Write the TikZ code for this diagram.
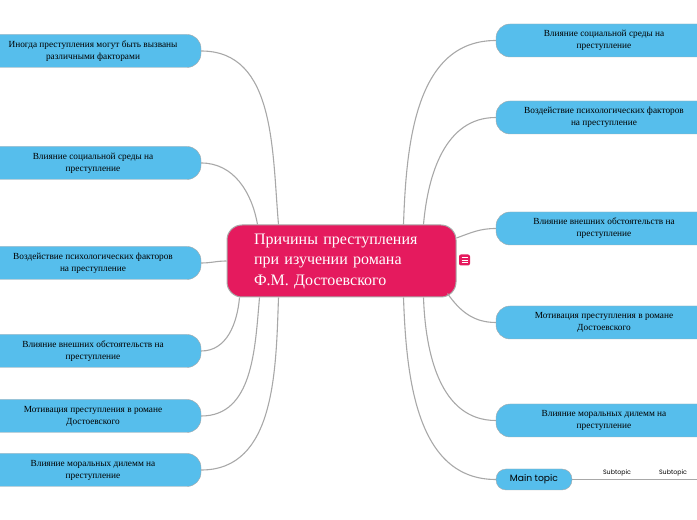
\documentclass[tikz,border=0pt]{standalone}
\usepackage{fontspec}
\setmainfont{Liberation Serif}
\newfontfamily\uifont{Poppins}
\usetikzlibrary{positioning}
\definecolor{rose}{HTML}{E51A5E}
\definecolor{sky}{HTML}{56BEEC}
\definecolor{rim}{HTML}{A8A8A8}
\definecolor{wire}{HTML}{A8A8A8}

\begin{document}
\begin{tikzpicture}[x=1pt,y=1pt,on grid,
    topic/.style={draw=rim,fill=sky,rounded corners=14pt,minimum width=216pt,minimum height=33pt,inner sep=2pt,align=center,font=\fontsize{9.3}{12}\selectfont},
    core/.style={draw=rim,line width=1pt,fill=rose,rounded corners=15pt,text=white,minimum height=72pt,text width=175pt,inner xsep=27pt,align=left,font=\fontsize{16}{20.5}\selectfont},
    maintopic/.style={draw=rim,fill=sky,rounded corners=10pt,minimum width=76pt,minimum height=21pt,inner sep=1pt,font=\uifont\fontsize{9.2}{10}\selectfont},
    subtopic/.style={inner sep=1pt,font=\uifont\fontsize{6.3}{8}\selectfont},
    link/.style={draw=wire,line width=1.1pt}]
    \useasboundingbox (0,0) rectangle (697,520);
    % centre
    \node[core](c) at (341.5,259) {Причины преступления\\при изучении романа\\Ф.М. Достоевского};
    \node[fill=rose,rounded corners=2pt,minimum size=11pt,inner sep=0pt](menu) at (464.5,260) {};
    \foreach \d in {-2.5,0,2.5}
        \draw[white,line width=0.8pt] ([xshift=-3pt,yshift=\d pt]menu.center) -- ++(6pt,0);
    % left side
    \node[topic](l1) at (93,469) {Иногда преступления могут быть вызваны\\различными факторами};
    \node[topic](l2) [below=112pt of l1] {Влияние социальной среды на\\преступление};
    \node[topic](l3) [below=100pt of l2] {Воздействие психологических факторов\\на преступление};
    \node[topic](l4) [below=88pt of l3] {Влияние внешних обстоятельств на\\преступление};
    \node[topic](l5) [below=65pt of l4] {Мотивация преступления в романе\\Достоевского};
    \node[topic](l6) [below=54pt of l5] {Влияние моральных дилемм на\\преступление};
    % right side
    \node[topic](r1) at (604,479.5) {Влияние социальной среды на\\преступление};
    \node[topic](r2) [below=77pt of r1] {Воздействие психологических факторов\\на преступление};
    \node[topic](r3) [below=111pt of r2] {Влияние внешних обстоятельств на\\преступление};
    \node[topic](r4) [below=94pt of r3] {Мотивация преступления в романе\\Достоевского};
    \node[topic](r5) [below=98pt of r4] {Влияние моральных дилемм на\\преступление};
    \node[maintopic](m) [below left=59pt and 70pt of r5] {Main topic};
    \node[subtopic](s1) [right=83pt of m,yshift=7pt] {Subtopic};
    \node[subtopic](s2) [right=56pt of s1] {Subtopic};
    \coordinate (tail) at (700,40.5);
    \path[link]
        (l1.east) edge[out=0,in=95] ([xshift=52pt]c.north west)
        (l2.east) edge[out=0,in=100] ([xshift=31pt]c.north west)
        (l3.east) edge[out=0,in=180] (c.west)
        ([xshift=13pt]c.south west) edge[out=-95,in=0] (l4.east)
        ([xshift=33pt]c.south west) edge[out=-95,in=0] (l5.east)
        ([xshift=52pt]c.south west) edge[out=-92,in=0] (l6.east)
        ([xshift=-53pt]c.north east) edge[out=88,in=180] (r1.west)
        ([xshift=-33pt]c.north east) edge[out=85,in=180] (r2.west)
        ([yshift=23pt]c.east) edge[out=20,in=180] (r3.west)
        ([xshift=-9pt,yshift=4pt]c.south east) edge[out=-55,in=180] (r4.west)
        ([xshift=-33pt]c.south east) edge[out=-88,in=180] (r5.west)
        ([xshift=-53pt]c.south east) edge[out=-88,in=180] (m.west)
        (m.east) edge (tail);
\end{tikzpicture}
\end{document}
